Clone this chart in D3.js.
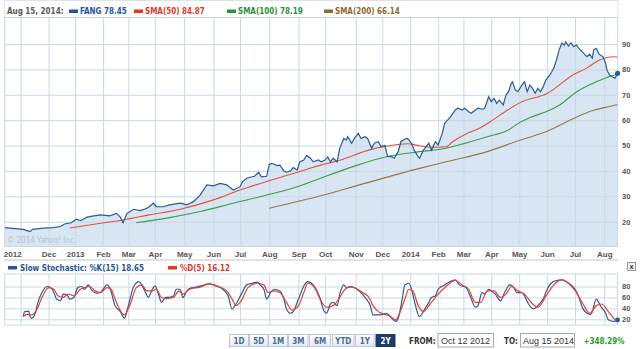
<!DOCTYPE html>
<html><head><meta charset="utf-8">
<script src="https://cdn.jsdelivr.net/npm/d3@7"></script>
<style>
body{margin:0;background:#fff;}
svg{display:block;font-family:"DejaVu Sans Condensed","DejaVu Sans",sans-serif;font-stretch:condensed;}
</style></head><body>
<svg id="c" width="640" height="349"></svg>
<script>
// ---- data (x = trading-day index from Oct 12 2012, value) ----
const monthTicks = [12,33,53,74,93,113,135,157,177,199,221,241,264,284,305,326,345,366,387,408,429,451];
const monthLabels = ["2012","Dec","2013","Feb","Mar","Apr","May","Jun","Jul","Aug","Sep","Oct","Nov","Dec","2014","Feb","Mar","Apr","May","Jun","Jul","Aug"];
const priceTicks = [20,30,40,50,60,70,80,90];
const stochTicks = [20,40,60,80];
const lastIndex = 461;

const fang = [[0,17.7],[6,17.4],[14,17.0],[19,16.1],[21,17.0],[29,17.5],[36,17.7],[42,18.1],[45,19.1],[50,19.6],[54,21.0],[57,20.4],[62,21.8],[67,22.3],[72,22.7],[79,22.3],[84,23.3],[87,21.8],[89,19.6],[92,23.3],[97,24.9],[102,24.4],[107,25.3],[112,27.3],[114,25.9],[119,25.9],[124,26.6],[132,27.3],[137,26.6],[142,27.9],[147,30.5],[152,34.5],[157,34.1],[162,35.1],[167,34.5],[172,32.5],
[177,33.8],[179,35.8],[182,37.1],[186,37.7],[188,37.9],[191,39.5],[193,37.7],[197,37.9],[199,42.6],[201,43.0],[205,42.1],[207,42.3],[210,40.0],[212,39.5],[215,40.0],[217,41.3],[220,40.4],[222,43.6],[225,44.3],[227,46.0],[230,45.0],[232,43.6],[236,44.3],[238,43.6],[241,44.3],[243,45.6],[245,43.6],[247,45.0],[250,43.6],[252,48.9],[255,52.8],[257,52.2],[258,53.5],[261,50.9],[263,52.8],[266,54.8],[268,52.8],[271,53.5],[273,52.8],[276,48.9],[278,50.9],[281,51.5],[283,49.6],[286,50.0],[288,45.6],[291,45.6],[293,45.0],[296,47.6],[298,51.5],[301,52.6],[303,52.8],[306,50.9],[308,48.2],[311,45.6],
[312,45.0],[315,48.2],[319,50.9],[321,48.2],[324,51.5],[326,50.2],[329,54.6],[331,58.8],[335,61.1],[339,64.0],[341,64.7],[344,64.0],[346,64.7],[349,63.3],[351,62.7],[354,64.0],[356,64.7],[359,64.3],[361,64.7],[364,69.2],[366,67.3],[368,68.6],[370,66.6],[372,67.9],[375,66.0],[377,69.9],[379,71.2],[381,74.5],[382,75.1],[384,71.9],[386,71.2],[389,73.8],[391,75.1],[393,71.2],[395,73.8],[397,72.5],[399,70.6],[401,72.5],[403,71.2],[405,73.2],[407,75.8],[410,77.8],[413,80.4],[415,83.7],[417,87.6],[419,90.3],[421,89.6],[422,90.9],[424,89.2],[426,90.5],[428,88.9],[430,89.6],[433,87.6],[435,86.6],[438,85.0],[440,86.0],[442,84.4],[443,87.6],[445,88.3],[447,86.0],[450,85.0],[452,82.4],[453,79.7],[455,77.8],[457,77.1],[459,76.5],[461,78.45]];

const sma50 = [[49,17.5],[72,19.4],[89,20.7],[109,22.7],[132,24.9],[157,28.6],[177,32.5],[197,35.8],[217,39.0],[227,40.6],[237,42.2],[252,44.2],[275,48.4],[287,49.7],[303,50.7],[312,49.9],[322,49.3],[332,49.5],[337,51.5],[348,54.8],[357,56.8],[367,60.0],[378,63.9],[388,67.0],[408,70.5],[428,78.0],[438,80.6],[447,83.6],[453,84.7],[458,85.0],[461,84.87]];

const sma100 = [[99,19.6],[122,21.4],[147,24.0],[172,27.3],[197,30.5],[222,34.1],[237,37.0],[262,41.7],[287,45.6],[312,47.6],[332,48.9],[342,50.3],[363,53.5],[378,55.9],[388,59.3],[395,61.0],[408,63.5],[418,66.2],[430,71.1],[445,75.1],[455,77.2],[461,78.19]];

const sma200 = [[199,25.3],[237,30.1],[267,34.5],[312,41.0],[332,43.6],[363,47.6],[388,52.2],[408,55.6],[425,60.0],[443,63.9],[455,65.4],[461,66.14]];

const stochK = [[14,25],[15,34],[18,35],[19,25],[20,22],[23,31],[25,51],[28,69],[32,80],[34,79],[37,69],[39,57],[42,54],[44,66],[47,64],[49,57],[52,60],[55,78],[58,80],[60,75],[63,83],[65,75],[69,68],[72,69],[74,75],[77,83],[79,78],[83,45],[87,34],[90,22],[93,45],[97,80],[101,89],[103,83],[106,69],[108,60],[111,75],[113,81],[116,63],[118,51],[121,60],[123,60],[127,63],[129,75],[132,75],[134,60],[137,72],[141,78],[144,79],[149,82],[153,85],[157,83],[161,79],[164,75],[168,63],[171,39],[174,48],[178,66],[182,83],[186,86],[190,88],[192,83],[195,75],[197,57],[200,69],[203,75],[207,72],[210,57],[212,39],[215,31],[217,34],[221,57],[225,81],[228,89],[232,83],[237,60],[240,36],[242,31],[245,48],[247,51],[250,45],[252,66],[255,83],[257,78],[260,80],[262,79],[265,75],[269,66],[272,57],[275,45],[277,28],[280,28],[284,29],[287,31],[290,25],[294,16],[296,22],[299,57],[301,83],[304,86],[306,75],[309,45],[312,25],[316,39],[319,51],[321,60],[324,63],[326,75],[331,83],[335,89],[339,92],[342,83],[347,78],[351,57],[354,42],[356,45],[359,69],[361,66],[364,75],[366,72],[369,66],[373,54],[376,69],[380,83],[383,78],[385,69],[389,69],[391,63],[394,48],[398,39],[401,45],[405,57],[408,75],[411,86],[415,91],[419,92],[423,88],[428,78],[431,66],[435,39],[438,31],[441,29],[445,57],[448,45],[452,31],[454,19],[458,16],[461,18.65]];

const stochD = [[14,25],[17,29],[20,28],[24,37],[28,60],[33,78],[37,75],[40,63],[44,60],[48,66],[52,63],[57,75],[60,78],[64,80],[68,72],[72,69],[77,78],[80,75],[84,51],[90,28],[94,45],[99,78],[103,83],[107,72],[111,72],[114,75],[118,60],[122,58],[127,60],[131,72],[134,66],[139,75],[147,79],[154,85],[161,80],[167,72],[171,57],[174,45],[178,54],[183,78],[190,86],[195,83],[198,69],[202,72],[207,69],[212,51],[216,37],[221,45],[225,69],[228,86],[233,78],[237,58],[242,42],[247,45],[252,60],[256,75],[260,79],[263,78],[269,69],[274,60],[277,45],[281,34],[286,29],[290,25],[294,19],[297,31],[301,57],[304,75],[307,72],[311,45],[315,34],[320,48],[326,66],[332,80],[339,91],[344,83],[349,75],[354,51],[358,51],[363,72],[368,72],[373,60],[378,69],[381,80],[386,72],[391,66],[396,51],[401,42],[408,66],[413,83],[419,92],[424,86],[430,69],[435,48],[440,31],[445,45],[449,48],[454,34],[458,22],[461,16.12]];

const legendDate = "Aug 15, 2014:";
const legendItems = [
  {label:"FANG 78.45", color:"#24569a"},
  {label:"SMA(50) 84.87", color:"#e0392a"},
  {label:"SMA(100) 78.19", color:"#2f8f41"},
  {label:"SMA(200) 66.14", color:"#8c6c34"}
];
const stochLegend = [
  {label:"Slow Stochastic: %K(15) 18.65", color:"#24569a"},
  {label:"%D(5) 16.12", color:"#e0392a"}
];
const rangeButtons = ["1D","5D","1M","3M","6M","YTD","1Y","2Y"];
const fromDate = "Oct 12 2012", toDate = "Aug 15 2014", change = "+348.29%";

// ---- drawing ----
const svg = d3.select("#c");
const X0 = 4.7, X1 = 617.6;
const mainTop = 17.5, mainBot = 246.5;
const stTop = 274, stBot = 325;
const x = d3.scaleLinear().domain([0, lastIndex]).range([X0, X1]);
const y = d3.scaleLinear().domain([10, 100]).range([247.1, 18.6]);
const ys = d3.scaleLinear().domain([0, 100]).range([330.2, 275.6]);
const grid = "#cad8e4";
const labelColor = "#555";

const defs = svg.append("defs");
defs.append("clipPath").attr("id","cm").append("rect").attr("x",X0).attr("y",mainTop).attr("width",X1-X0).attr("height",mainBot-mainTop);
defs.append("clipPath").attr("id","cs").append("rect").attr("x",X0).attr("y",stTop).attr("width",X1-X0).attr("height",stBot-stTop);
const bg = defs.append("linearGradient").attr("id","btn").attr("x1",0).attr("y1",0).attr("x2",0).attr("y2",1);
bg.append("stop").attr("offset","0").attr("stop-color","#ffffff");
bg.append("stop").attr("offset","1").attr("stop-color","#e4eaf1");

// legend box
svg.append("rect").attr("x",4.5).attr("y",0.5).attr("width",613.5).attr("height",17).attr("fill","#fff").attr("stroke","#dde3ea");

// main area fill
svg.append("path").datum(fang).attr("clip-path","url(#cm)").attr("fill","#d7e6f2")
  .attr("d", d3.area().x(d=>x(d[0])).y0(y(10)).y1(d=>y(d[1])));

// vertical gridlines main
const gv = svg.append("g").attr("transform",`translate(0,${mainBot})`)
  .call(d3.axisBottom(x).tickValues(monthTicks).tickSize(-(mainBot-mainTop)).tickFormat(""));
gv.select(".domain").remove();
gv.selectAll("line").attr("stroke",grid).attr("stroke-width",1);

// horizontal gridlines + right labels main
const gy = svg.append("g").attr("transform",`translate(${X1},0)`)
  .call(d3.axisRight(y).tickValues(priceTicks).tickSize(-(X1-X0)).tickPadding(4.5).tickFormat(d3.format("d")));
gy.select(".domain").remove();
gy.selectAll("line").attr("stroke",grid);
gy.selectAll("text").attr("fill",labelColor).attr("font-size","7.5px").attr("font-weight","bold").attr("font-family",null);

// frame
svg.append("rect").attr("x",X0).attr("y",mainTop).attr("width",X1-X0).attr("height",mainBot-mainTop).attr("fill","none").attr("stroke",grid);

// watermark
svg.append("text").attr("x",7).attr("y",243).attr("fill","#b3c4d3").attr("font-size","8px").text("© 2014 Yahoo! Inc.");

// SMA lines
const line = d3.line().x(d=>x(d[0])).y(d=>y(d[1]));
const gl = svg.append("g").attr("clip-path","url(#cm)");
gl.append("path").datum(sma200).attr("fill","none").attr("stroke","#957846").attr("stroke-width",1.1).attr("d",line.curve(d3.curveMonotoneX));
gl.append("path").datum(sma100).attr("fill","none").attr("stroke","#3d9a4c").attr("stroke-width",1.1).attr("d",line);
gl.append("path").datum(sma50).attr("fill","none").attr("stroke","#e4503e").attr("stroke-width",1.1).attr("d",line);
const pline = d3.line().x(d=>x(d[0])).y(d=>y(d[1]));
gl.append("path").datum(fang).attr("fill","none").attr("stroke","#2b5b97").attr("stroke-width",1.2).attr("d",pline);
svg.append("circle").attr("cx",x(fang[fang.length-1][0])).attr("cy",y(fang[fang.length-1][1])).attr("r",2.6).attr("fill","#2b5b97");

// x labels
const gxl = svg.append("g").attr("transform",`translate(0,${mainBot})`)
  .call(d3.axisBottom(x).tickValues(monthTicks).tickSize(0).tickPadding(5.3).tickFormat((d,i)=>monthLabels[i]));
gxl.select(".domain").remove();
gxl.selectAll("text").attr("fill",labelColor).attr("font-size","8px").attr("font-weight","bold").attr("font-family",null);
gxl.select(".tick text").attr("text-anchor","end").attr("dx","0.5");

// separator
svg.append("rect").attr("x",4).attr("y",259).attr("width",614).attr("height",2).attr("fill","#e2e2e2");

// legend top
svg.append("text").attr("x",7).attr("y",14).attr("fill","#5a5a5a").attr("font-size","8px").attr("font-weight","bold").text(legendDate);
const legX = [69,134,227,324];
legendItems.forEach((it,i)=>{
  svg.append("rect").attr("x",legX[i]).attr("y",9.5).attr("width",9).attr("height",3.5).attr("fill",it.color);
  svg.append("text").attr("x",legX[i]+11).attr("y",14).attr("fill",it.color).attr("font-size","8px").attr("font-weight","bold").text(it.label);
});

// stochastic legend
const sLegX = [8,168];
stochLegend.forEach((it,i)=>{
  svg.append("rect").attr("x",sLegX[i]).attr("y",266).attr("width",9).attr("height",3.5).attr("fill",it.color);
  svg.append("text").attr("x",sLegX[i]+12).attr("y",271).attr("fill",it.color).attr("font-size","8px").attr("font-weight","bold").text(it.label);
});
// close box
svg.append("rect").attr("x",627.5).attr("y",262.5).attr("width",8).attr("height",8).attr("fill","#f2f2f2").attr("stroke","#9a9a9a");
svg.append("text").attr("x",631.5).attr("y",269).attr("text-anchor","middle").attr("font-size","7px").attr("font-weight","bold").attr("fill","#333").text("x");

// stochastic panel
svg.append("rect").attr("x",X0).attr("y",stTop).attr("width",X1-X0).attr("height",stBot-stTop).attr("fill","#fff");
const sv = svg.append("g").attr("transform",`translate(0,${stBot})`)
  .call(d3.axisBottom(x).tickValues(monthTicks).tickSize(-(stBot-stTop)).tickFormat(""));
sv.select(".domain").remove();
sv.selectAll("line").attr("stroke",grid);
const sh = svg.append("g").attr("transform",`translate(${X1},0)`)
  .call(d3.axisRight(ys).tickValues(stochTicks).tickSize(-(X1-X0)).tickPadding(4.5).tickFormat(d3.format("d")));
sh.select(".domain").remove();
sh.selectAll("line").attr("stroke",grid);
sh.selectAll("text").attr("fill",labelColor).attr("font-size","7.5px").attr("font-weight","bold").attr("font-family",null);
svg.append("rect").attr("x",X0).attr("y",stTop).attr("width",X1-X0).attr("height",stBot-stTop).attr("fill","none").attr("stroke",grid);

const sline = d3.line().x(d=>x(d[0])).y(d=>ys(d[1])).curve(d3.curveMonotoneX);
const gs = svg.append("g").attr("clip-path","url(#cs)");
gs.append("path").datum(stochK).attr("fill","none").attr("stroke","#2b5b97").attr("stroke-width",1.2).attr("d",sline);
gs.append("path").datum(stochD).attr("fill","none").attr("stroke","#e8402e").attr("stroke-width",1.2).attr("d",sline);
svg.append("circle").attr("cx",x(stochK[stochK.length-1][0])).attr("cy",ys(stochK[stochK.length-1][1])).attr("r",2.4).attr("fill","#2b5b97");

// range buttons
const btnX = [229.5,249.5,268.5,288.5,309.5,332.5,355.5,376];
const btnW = [19,18.5,19,19.5,21,21.5,18.5,19];
rangeButtons.forEach((b,i)=>{
  const sel = i === rangeButtons.length-1;
  svg.append("rect").attr("x",btnX[i]).attr("y",334.5).attr("width",btnW[i]).attr("height",12)
    .attr("fill",sel?"#1d3a6b":"url(#btn)").attr("stroke",sel?"#1d3a6b":"#bcc7d3");
  svg.append("text").attr("x",btnX[i]+btnW[i]/2).attr("y",343.5).attr("text-anchor","middle")
    .attr("font-size","8px").attr("font-weight","bold").attr("fill",sel?"#fff":"#4a6b99").text(b);
});
svg.append("text").attr("x",409).attr("y",344).attr("font-size","8px").attr("font-weight","bold").attr("fill","#333").text("FROM:");
svg.append("rect").attr("x",438).attr("y",333.5).attr("width",55.5).attr("height",13.5).attr("fill","#fff").attr("stroke","#a9a9a9");
svg.append("text").attr("x",441).attr("y",344).attr("font-size","9px").attr("font-family","Liberation Sans, Arial, sans-serif").attr("fill","#333").text(fromDate);
svg.append("text").attr("x",504).attr("y",344).attr("font-size","8px").attr("font-weight","bold").attr("fill","#333").text("TO:");
svg.append("rect").attr("x",520.5).attr("y",333.5).attr("width",54).attr("height",13.5).attr("fill","#fff").attr("stroke","#a9a9a9");
svg.append("text").attr("x",523).attr("y",344).attr("font-size","9px").attr("font-family","Liberation Sans, Arial, sans-serif").attr("fill","#333").text(toDate);
svg.append("text").attr("x",583.5).attr("y",344).attr("font-size","8px").attr("font-weight","bold").attr("fill","#2e9a2e").text(change);
</script>
</body></html>
